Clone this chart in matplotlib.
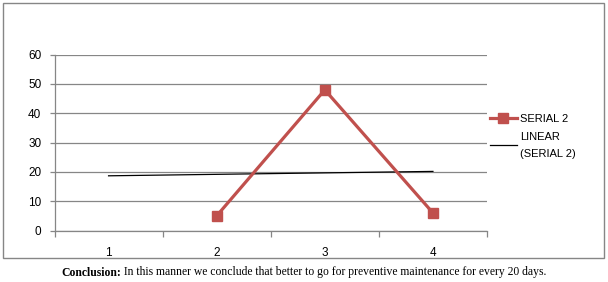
import numpy as np
import matplotlib
matplotlib.use("Agg")
import matplotlib.pyplot as plt
from matplotlib.lines import Line2D
from matplotlib.patches import Rectangle

categories = ["1", "2", "3", "4"]
serial2 = [np.nan, 5, 48, 6]
y_ticks = [0, 10, 20, 30, 40, 50, 60]
legend_labels = ["SERIAL 2", "LINEAR\n(SERIAL 2)"]
caption_bold = "Conclusion:"
caption_text = " In this manner we conclude that better to go for preventive maintenance for every 20 days."

plt.rcParams['font.family'] = ['Liberation Sans', 'DejaVu Sans']

fig = plt.figure(figsize=(6.08, 2.82), dpi=100)
W, H = 608, 282
ax = fig.add_axes([54.5 / W, (H - 230.5) / H, (487 - 54.5) / W, (230.5 - 54.7) / H])

red = "#C0504D"
grid = "#868686"

x = np.arange(len(categories)) + 0.5
vals = np.array(serial2, dtype=float)
mask = ~np.isnan(vals)
ax.plot(x[mask], vals[mask], color=red, lw=2.3, marker="s", ms=7.5, zorder=3)

# linear trendline over category index
idx = np.arange(1, len(categories) + 1)
coef = np.polyfit(idx[mask], vals[mask], 1)
trend = np.polyval(coef, idx)
ax.plot(x, trend, color="black", lw=0.9, zorder=2)

ax.set_xlim(0, len(categories))
ax.set_ylim(0, 60)
ax.set_yticks(y_ticks)
ax.set_yticklabels([str(v) for v in y_ticks])
ax.set_xticks(x)
ax.set_xticklabels(categories)
ax.set_xticks(np.arange(len(categories) + 1), minor=True)
ax.tick_params(axis="x", which="major", length=0, pad=12, labelsize=8.5)
ax.tick_params(axis="x", which="minor", length=4, color=grid, width=0.9)
ax.tick_params(axis="y", length=3.5, color=grid, width=0.9, pad=6, labelsize=8.5)
ax.yaxis.grid(True, color=grid, lw=0.9)
ax.set_axisbelow(True)
for s in ["top", "right"]:
    ax.spines[s].set_visible(False)
for s in ["left", "bottom"]:
    ax.spines[s].set_color(grid)
    ax.spines[s].set_linewidth(0.9)

handles = [Line2D([], [], color=red, lw=2.3, marker="s", ms=7.5),
           Line2D([], [], color="black", lw=0.9)]
leg = fig.legend(handles, legend_labels, loc="upper left",
                 bbox_to_anchor=(490 / W, 1 - 114 / H), frameon=False,
                 fontsize=8, handlelength=2.4, handletextpad=0.3,
                 labelspacing=0.7, borderaxespad=0, borderpad=0)
for t in leg.get_texts():
    t.set_linespacing(1.85)

fig.patches.append(Rectangle((2.5 / W, (H - 258) / H), (604 - 2.5) / W, (258 - 3) / H,
                             transform=fig.transFigure, fill=False,
                             edgecolor=grid, lw=1.0))

t1 = fig.text(0, 0, caption_bold, family=["Liberation Serif"], weight="bold", fontsize=8.4)
t2 = fig.text(0, 0, caption_text, family=["Liberation Serif"], fontsize=8.4)
fig.canvas.draw()
r = fig.canvas.get_renderer()
w1 = t1.get_window_extent(r).width
w2 = t2.get_window_extent(r).width
x0 = (W - (w1 + w2)) / 2
ycap = (H - 275.5) / H
t1.set_position((x0 / W, ycap))
t2.set_position(((x0 + w1) / W, ycap))

fig.savefig("out.png", dpi=100)
